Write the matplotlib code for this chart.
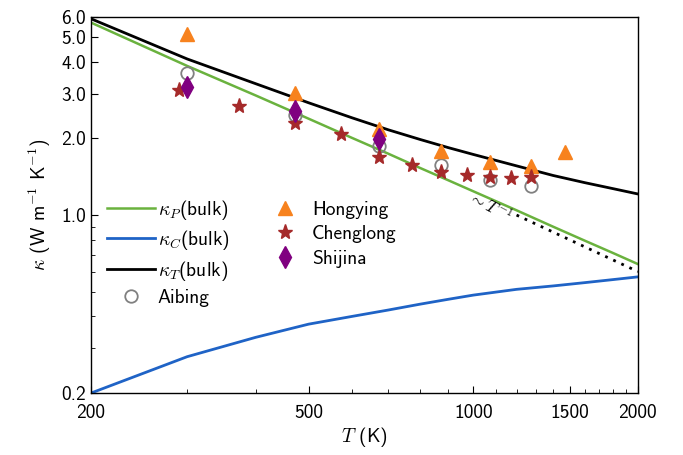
import matplotlib
matplotlib.use("Agg")
import matplotlib.pyplot as plt

plt.rcParams['font.family'] = ['cmss10', 'DejaVu Sans']
plt.rcParams['mathtext.fontset'] = 'cm'
plt.rcParams['axes.unicode_minus'] = False

# bulk curves
T_bulk = [200, 300, 400, 500, 600, 700, 800, 900, 1000, 1200, 1400, 1600, 1800, 2000]
kappa_P = [5.70, 3.85, 2.95, 2.39, 2.01, 1.74, 1.53, 1.37, 1.24, 1.044, 0.90, 0.793, 0.710, 0.642]
kappa_C = [0.200, 0.278, 0.331, 0.373, 0.400, 0.424, 0.447, 0.467, 0.485, 0.511, 0.527, 0.543, 0.558, 0.572]
kappa_T = [5.90, 4.10, 3.28, 2.76, 2.41, 2.16, 1.98, 1.84, 1.73, 1.56, 1.43, 1.34, 1.27, 1.21]

# ~T^-1 guide
T_guide = [1200, 2000]
k_guide = [1.0, 0.6]

# experiments
T_hongying = [300, 473, 673, 873, 1073, 1273, 1473]
k_hongying = [5.14, 3.02, 2.18, 1.78, 1.61, 1.56, 1.77]
T_chenglong = [290, 373, 473, 573, 673, 773, 873, 973, 1073, 1173, 1273]
k_chenglong = [3.10, 2.68, 2.29, 2.08, 1.69, 1.57, 1.48, 1.43, 1.41, 1.40, 1.41]
T_shijina = [300, 473, 673]
k_shijina = [3.19, 2.55, 1.98]
T_aibing = [300, 473, 673, 873, 1073, 1273]
k_aibing = [3.62, 2.47, 1.87, 1.57, 1.37, 1.30]

fig = plt.figure(figsize=(6.83, 4.55), dpi=100)
ax = fig.add_axes([0.133, 0.136, 0.801, 0.827])

lP, = ax.plot(T_bulk, kappa_P, color='#6ab23e', lw=1.8, label=r'$\kappa_P$(bulk)')
lC, = ax.plot(T_bulk, kappa_C, color='#1f63c6', lw=2.0, label=r'$\kappa_C$(bulk)')
lT, = ax.plot(T_bulk, kappa_T, color='black', lw=2.0, label=r'$\kappa_T$(bulk)')
ax.plot(T_guide, k_guide, color='black', lw=2.0, ls=(0, (1, 2.2)))
ax.text(1075, 1.08, r'$\sim T^{-1}$', rotation=-28, fontsize=12,
        ha='center', va='center')

mA, = ax.plot(T_aibing, k_aibing, 'o', ms=9, mfc='none', mec='#808080', mew=1.3,
              label='Aibing')
mH, = ax.plot(T_hongying, k_hongying, '^', ms=10, color='#f7821e', label='Hongying')
mC, = ax.plot(T_chenglong, k_chenglong, '*', ms=11, color='#a52a2a', label='Chenglong')
mS, = ax.plot(T_shijina, k_shijina, 'd', ms=11, color='#800080', label='Shijina')

ax.set_xscale('log')
ax.set_yscale('log')
ax.set_xlim(200, 2000)
ax.set_ylim(0.2, 6.0)

xt = [200, 500, 1000, 1500, 2000]
ax.set_xticks(xt)
ax.set_xticklabels([str(v) for v in xt])
ax.set_xticks([300, 400, 600, 700, 800, 900, 1100, 1200, 1300, 1400,
               1600, 1700, 1800, 1900], minor=True)
ax.set_xticklabels([], minor=True)
yt = [0.2, 1.0, 2.0, 3.0, 4.0, 5.0, 6.0]
ax.set_yticks(yt)
ax.set_yticklabels(['%.1f' % v for v in yt])
ax.set_yticks([0.3, 0.4, 0.5, 0.6, 0.7, 0.8, 0.9], minor=True)
ax.set_yticklabels([], minor=True)
ax.tick_params(which='both', direction='in', labelsize=14)
ax.tick_params(which='major', length=5)
ax.tick_params(which='minor', length=3)
ax.tick_params(axis='x', which='major', pad=8)
for s in ax.spines.values():
    s.set_linewidth(1.0)

ax.set_xlabel(r'$T$ (K)', fontsize=14, labelpad=2)
ax.set_ylabel(r'$\kappa$ (W m$^{-1}$ K$^{-1}$)', fontsize=14, labelpad=6)

ax.legend(handles=[lP, lC, lT, mA, mH, mC, mS], ncol=2, frameon=False,
          loc='center left', bbox_to_anchor=(0.015, 0.374), fontsize=14,
          handlelength=2.5, handletextpad=0.12, columnspacing=1.6,
          labelspacing=0.32, borderaxespad=0)

fig.savefig('out.png', dpi=100)
